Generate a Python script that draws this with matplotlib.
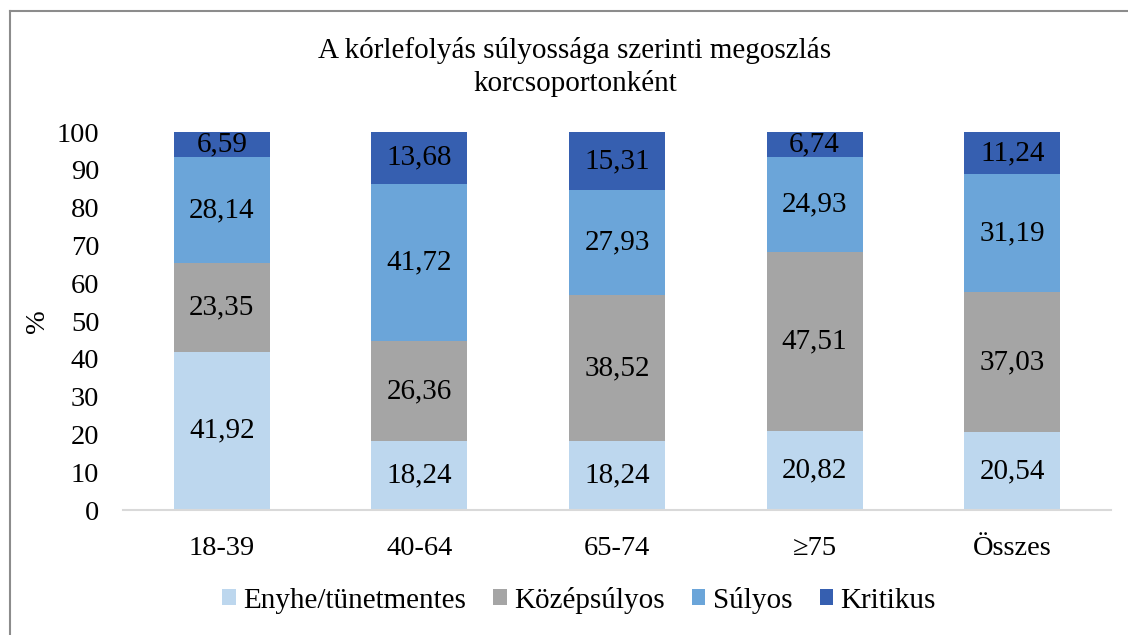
import numpy as np
import matplotlib.pyplot as plt
from matplotlib.lines import Line2D

plt.rcParams['font.family'] = ['Liberation Serif', 'DejaVu Serif']

# datos
grupos = ['18-39', '40-64', '65-74', '≥75', 'Összes']
series = ['Enyhe/tünetmentes', 'Középsúlyos', 'Súlyos', 'Kritikus']
enyhe = [41.92, 18.24, 18.24, 20.82, 20.54]
kozep = [23.35, 26.36, 38.52, 47.51, 37.03]
sulyos = [28.14, 41.72, 27.93, 24.93, 31.19]
kritikus = [6.59, 13.68, 15.31, 6.74, 11.24]
colores = ['#BDD7EE', '#A5A5A5', '#6BA5D9', '#365FB0']

fig = plt.figure(figsize=(11.28, 6.35), dpi=100)
ax = fig.add_axes([123/1128, 1-510/635, 988/1128, 378/635])

x = np.arange(len(grupos))
base = np.zeros(len(grupos))
for nombre, vals, col in zip(series, [enyhe, kozep, sulyos, kritikus], colores):
    vals = np.array(vals)
    barras = ax.bar(x, vals, 0.485, bottom=base, color=col, label=nombre)
    ax.bar_label(barras, labels=[f'{v:.2f}'.replace('.', ',') for v in vals],
                 label_type='center', fontsize=21)
    base += vals

ax.set_xlim(-0.5, 4.5)
ax.set_ylim(0, 100)
ax.set_yticks(range(0, 101, 10))
ax.set_xticks(x, grupos)
ax.tick_params(axis='both', length=0, labelsize=20.5)
ax.tick_params(axis='x', pad=19)
ax.tick_params(axis='y', pad=17)
for s in ['top', 'right', 'left']:
    ax.spines[s].set_visible(False)
ax.spines['bottom'].set_color('#D9D9D9')
ax.spines['bottom'].set_linewidth(1.5)
ax.set_ylabel('%', fontsize=20.5, labelpad=5)

fig.text(575/1128, 1-67/635, 'A kórlefolyás súlyossága szerinti megoszlás\nkorcsoportonként',
         ha='center', va='center', fontsize=21, linespacing=1.3)

ax.legend(loc='center', bbox_to_anchor=(579/1128, 1-600/635), bbox_transform=fig.transFigure,
          ncol=4, frameon=False, fontsize=21, handlelength=0.45, handleheight=0.45,
          handletextpad=0.25, columnspacing=0.95)

# borde del gráfico
fig.add_artist(Line2D([10/1128, 10/1128], [0, 1-11/635], color='#8C8C8C', lw=1.5))
fig.add_artist(Line2D([10/1128, 1], [1-11/635, 1-11/635], color='#8C8C8C', lw=1.5))

plt.savefig('out.png', dpi=100)
